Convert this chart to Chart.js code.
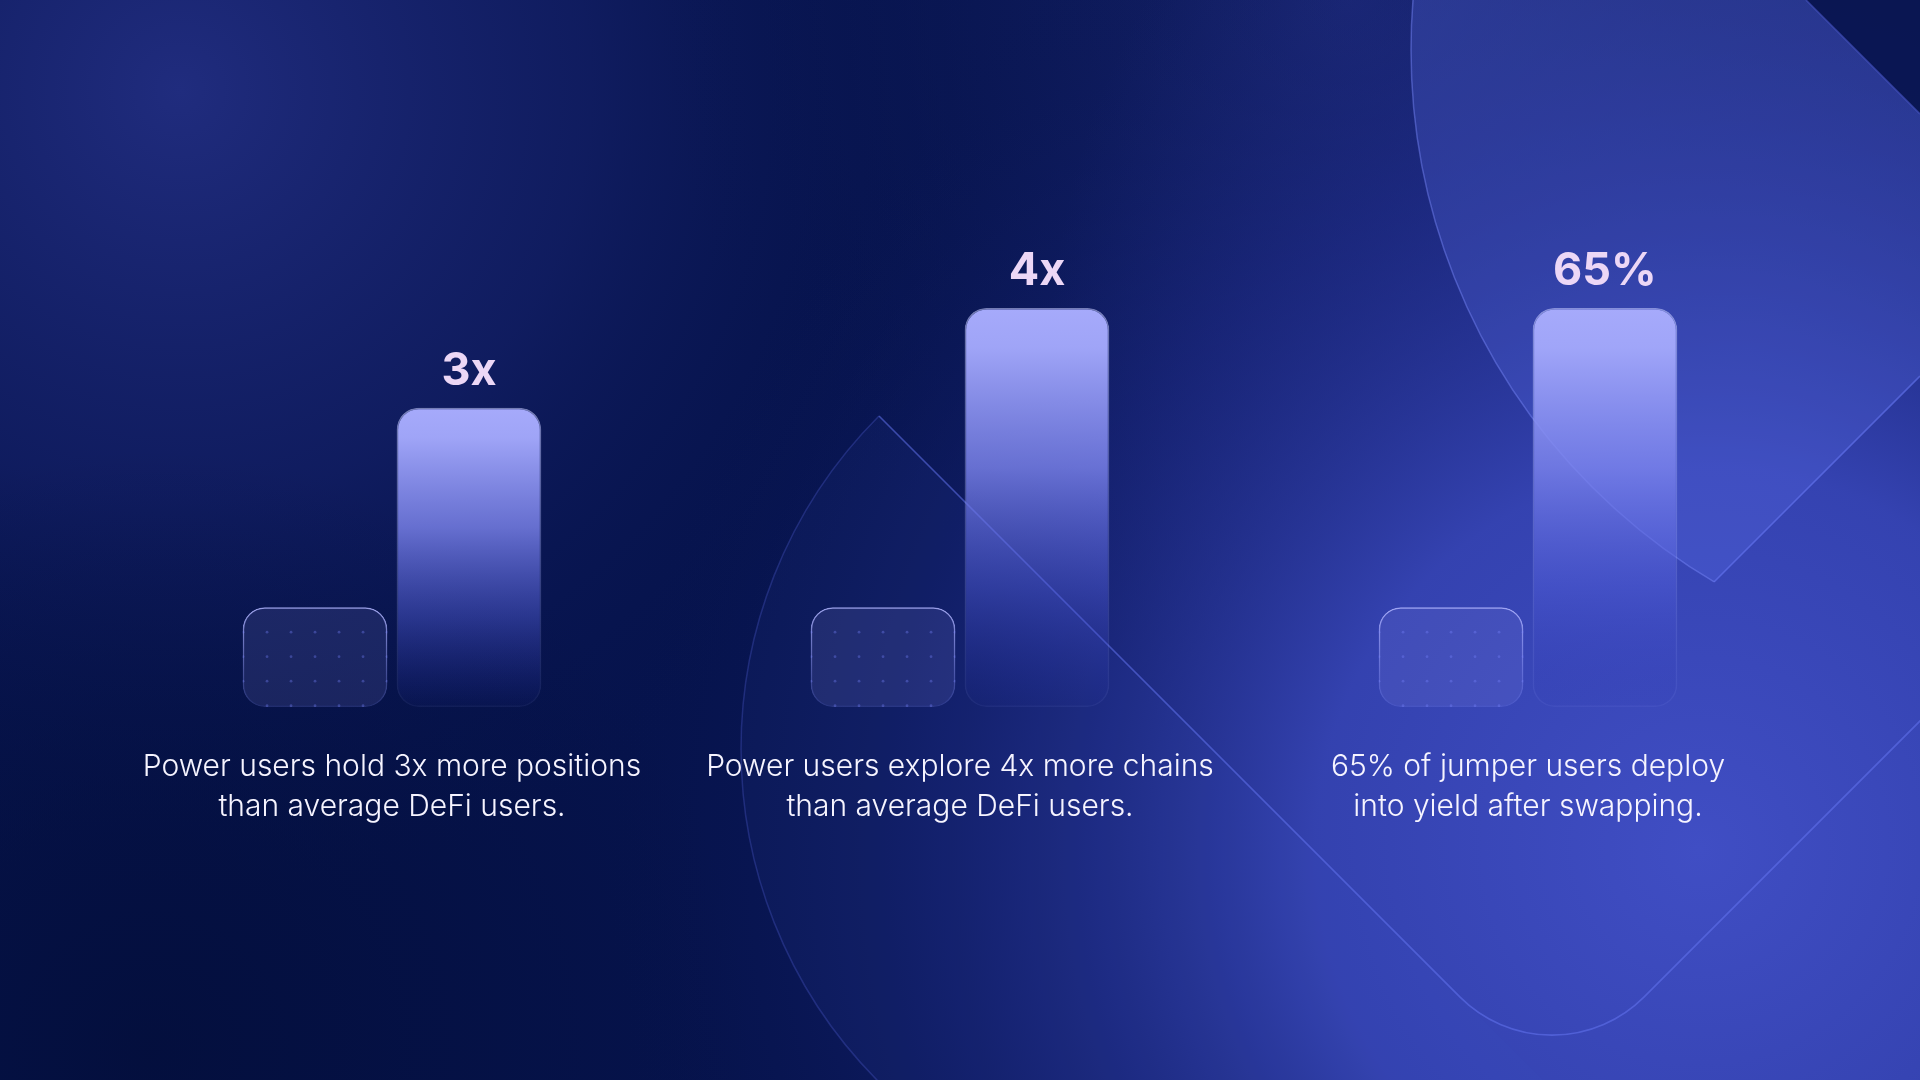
<!DOCTYPE html>
<html lang="en">
<head>
<meta charset="utf-8">
<title>jumper power users</title>
<script src="https://cdn.jsdelivr.net/npm/chart.js@4.4.1/dist/chart.umd.min.js"></script>
<style>
  html, body { margin: 0; padding: 0; background: #06134c; overflow: hidden; }
  #wrap { width: 1920px; height: 1080px; position: relative; }
</style>
</head>
<body>
<div id="wrap"><canvas id="statsChart"></canvas></div>
<script>
// Adatok
const categories = ['Positions', 'Chains', 'Yield'];
const averageUsers = [1, 1, 1];
const powerUsers = [3, 4, 4];
const valueLabels = ['3x', '4x', '65%'];
const captions = [
  ['Power users hold 3x more positions', 'than average DeFi users.'],
  ['Power users explore 4x more chains', 'than average DeFi users.'],
  ['65% of jumper users deploy', 'into yield after swapping.'],
];

// vertical gradient over one bar, from its value down to zero
function barGradient(context, stops, fallback) {
  const chart = context.chart;
  if (!chart.chartArea || context.raw === undefined) return fallback;
  const y = chart.scales.y;
  const top = y.getPixelForValue(context.raw);
  const bottom = y.getPixelForValue(0);
  const g = chart.ctx.createLinearGradient(0, top, 0, bottom);
  stops.forEach(([p, c]) => g.addColorStop(p, c));
  return g;
}

function radial(ctx, x, y, r, stops) {
  const g = ctx.createRadialGradient(x, y, 0, x, y, r);
  stops.forEach(([p, c]) => g.addColorStop(p, c));
  ctx.fillStyle = g;
  ctx.fillRect(0, 0, 1920, 1080);
}

// background + logo shapes
const backdrop = {
  id: 'backdrop',
  beforeDraw(chart) {
    const { ctx, width, height } = chart;
    ctx.save();
    ctx.fillStyle = '#06134c';
    ctx.fillRect(0, 0, width, height);
    radial(ctx, 180, 90, 820, [[0, 'rgba(32,44,126,1)'], [0.5, 'rgba(22,34,108,0.6)'], [1, 'rgba(6,19,76,0)']]);
    radial(ctx, 1350, 0, 700, [[0, 'rgba(30,42,122,0.8)'], [1, 'rgba(6,19,76,0)']]);
    radial(ctx, 1750, 350, 700, [[0, 'rgba(50,64,172,0.6)'], [1, 'rgba(50,64,172,0)']]);
    radial(ctx, 1700, 850, 1100, [[0, 'rgba(64,78,196,1)'], [0.35, 'rgba(54,68,180,0.95)'],
      [0.65, 'rgba(30,42,135,0.55)'], [1, 'rgba(6,19,76,0)']]);
    radial(ctx, 150, 1050, 600, [[0, 'rgba(3,14,58,0.8)'], [1, 'rgba(3,14,58,0)']]);

    // lower logo: left arc (only left of the diagonal) + rounded corner lines
    ctx.save();
    ctx.beginPath();
    ctx.moveTo(879, 416);
    ctx.lineTo(879 + 1200, 416 + 1200);
    ctx.lineTo(-400, 1616);
    ctx.lineTo(-400, 416 - 1279);
    ctx.closePath();
    ctx.clip();
    ctx.beginPath();
    ctx.arc(1212, 749, 471, 0, Math.PI * 2);
    ctx.fillStyle = 'rgba(70,85,205,0.08)';
    ctx.fill();
    ctx.strokeStyle = 'rgba(85,100,220,0.3)';
    ctx.lineWidth = 1.5;
    ctx.stroke();
    ctx.restore();

    ctx.beginPath();
    ctx.moveTo(879, 416);
    ctx.arcTo(1552, 1089, 2000, 641, 130);
    ctx.lineTo(2000, 641);
    ctx.strokeStyle = 'rgba(100,116,240,0.55)';
    ctx.lineWidth = 1.6;
    ctx.stroke();

    // top right logo: circle cut by a rotated square
    ctx.save();
    ctx.beginPath();
    ctx.moveTo(2051, 245);
    ctx.lineTo(551, -1255);
    ctx.lineTo(551, 1745);
    ctx.closePath();
    ctx.clip();
    ctx.beginPath();
    ctx.arc(2029, 50, 618, 0, Math.PI * 2);
    ctx.fillStyle = 'rgba(95,115,240,0.26)';
    ctx.fill();
    ctx.strokeStyle = 'rgba(125,140,255,0.45)';
    ctx.lineWidth = 1.5;
    ctx.stroke();
    ctx.restore();

    ctx.beginPath();
    ctx.moveTo(1714, 582);
    ctx.lineTo(1920, 376);
    ctx.strokeStyle = 'rgba(110,125,250,0.55)';
    ctx.stroke();

    ctx.beginPath();
    ctx.moveTo(1806, 0);
    ctx.lineTo(1920, 0);
    ctx.lineTo(1920, 114);
    ctx.closePath();
    ctx.fillStyle = 'rgba(10,22,80,0.92)';
    ctx.fill();
    ctx.beginPath();
    ctx.moveTo(1806, 0);
    ctx.lineTo(1920, 114);
    ctx.strokeStyle = 'rgba(90,105,230,0.45)';
    ctx.stroke();
    ctx.restore();
  },
};

// dots in the small bars, value labels over the tall ones
const barDecor = {
  id: 'barDecor',
  afterDatasetsDraw(chart) {
    const { ctx } = chart;
    ctx.save();
    chart.getDatasetMeta(0).data.forEach((bar) => {
      const { x, y, base, width } = bar.getProps(['x', 'y', 'base', 'width'], true);
      ctx.save();
      ctx.beginPath();
      ctx.roundRect(x - width / 2, y, width, base - y, 22);
      ctx.clip();
      ctx.fillStyle = 'rgba(120,132,255,0.35)';
      for (let row = y + 25; row < base + 2; row += 24.5) {
        for (let k = -3; k <= 3; k++) {
          ctx.beginPath();
          ctx.arc(x + k * 24, row, 1.4, 0, Math.PI * 2);
          ctx.fill();
        }
      }
      ctx.restore();
    });

    ctx.fillStyle = '#ecd7f6';
    ctx.font = '700 45px Inter, "Noto Sans", sans-serif';
    ctx.textAlign = 'center';
    ctx.textBaseline = 'alphabetic';
    chart.getDatasetMeta(1).data.forEach((bar, i) => {
      ctx.fillText(valueLabels[i], bar.x, bar.y - 23);
    });
    ctx.restore();
  },
};

Chart.defaults.font.family = 'Inter, "Noto Sans", sans-serif';

function initChart() {
  const canvas = document.getElementById('statsChart');

  const data = {
    labels: categories,
    datasets: [
      {
        label: 'Average DeFi users',
        data: averageUsers,
        backgroundColor: 'rgba(150,150,235,0.14)',
        borderColor: (c) => barGradient(c, [[0, 'rgba(178,182,255,0.85)'], [1, 'rgba(140,150,255,0.2)']], 'rgba(160,165,255,0.5)'),
        borderWidth: 1.5,
        borderRadius: 22,
        borderSkipped: false,
        barPercentage: 0.94,
        categoryPercentage: 0.542,
      },
      {
        label: 'Power users',
        data: powerUsers,
        backgroundColor: (c) => barGradient(c, [
          [0, 'rgba(166,170,251,1)'],
          [0.1, 'rgba(162,167,250,0.98)'],
          [0.4, 'rgba(125,133,238,0.8)'],
          [0.7, 'rgba(82,94,218,0.45)'],
          [1, 'rgba(45,55,180,0.05)'],
        ], '#a6aafb'),
        borderColor: (c) => barGradient(c, [[0, 'rgba(200,205,255,0.55)'], [1, 'rgba(150,160,255,0.08)']], 'rgba(180,185,255,0.4)'),
        borderWidth: 1.5,
        borderRadius: 22,
        borderSkipped: false,
        barPercentage: 0.94,
        categoryPercentage: 0.542,
      },
    ],
  };

  const options = {
    responsive: true,
    maintainAspectRatio: false,
    animation: false,
    events: [],
    layout: { padding: { left: 108, right: 108, top: 258, bottom: 233 } },
    plugins: {
      legend: { display: false },
      tooltip: { enabled: false },
    },
    scales: {
      x: {
        offset: true,
        grid: { display: false, drawTicks: false },
        border: { display: false },
        ticks: {
          color: '#f6f4ff',
          font: { size: 30, weight: 300, lineHeight: '40px' },
          padding: 40,
          autoSkip: false,
          maxRotation: 0,
          callback: (v, i) => captions[i],
        },
        afterFit: (scale) => { scale.height = 140; },
      },
      y: { display: false, min: 0, max: 4.5 },
    },
  };

  new Chart(canvas, { type: 'bar', data, options, plugins: [backdrop, barDecor] });
}

document.addEventListener('DOMContentLoaded', initChart);
</script>
</body>
</html>
